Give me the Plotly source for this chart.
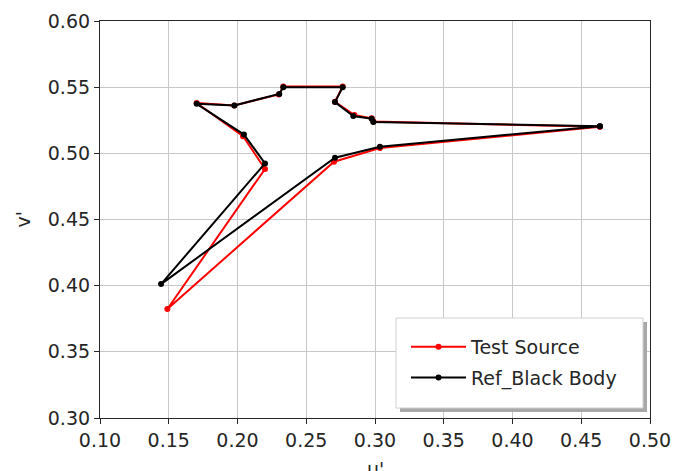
import plotly.graph_objects as go

# Test source chromaticity (u', v')
test_u = [0.4636, 0.3036, 0.2702, 0.1490, 0.2200, 0.2040, 0.1703, 0.1977, 0.2300,
          0.2333, 0.2765, 0.2709, 0.2850, 0.2976, 0.2988, 0.4636]
test_v = [0.5200, 0.5040, 0.4937, 0.3824, 0.4882, 0.5130, 0.5380, 0.5362, 0.5445,
          0.5505, 0.5505, 0.5390, 0.5290, 0.5265, 0.5240, 0.5200]

# Reference black body chromaticity (u', v')
ref_u = [0.4636, 0.3036, 0.2709, 0.1444, 0.2200, 0.2047, 0.1703, 0.1977, 0.2304,
         0.2333, 0.2765, 0.2709, 0.2842, 0.2976, 0.2988, 0.4636]
ref_v = [0.5205, 0.5050, 0.4967, 0.4012, 0.4924, 0.5142, 0.5374, 0.5362, 0.5449,
         0.5500, 0.5500, 0.5387, 0.5282, 0.5262, 0.5237, 0.5205]

x_ticks = [0.10, 0.15, 0.20, 0.25, 0.30, 0.35, 0.40, 0.45, 0.50]
y_ticks = [0.30, 0.35, 0.40, 0.45, 0.50, 0.55, 0.60]

FONT = "DejaVu Sans"
TXT = "#262626"
FS = 19

# plot area in figure pixels
L, R, T, B = 92, 642, 13, 410
W, H = 685, 471
PW, PH = R - L, B - T


def px(x):
    return (x - L) / PW


def py(y):
    return (B - y) / PH


fig = go.Figure()
fig.add_trace(go.Scatter(x=test_u, y=test_v, mode="lines+markers", name="Test Source",
                         legendgroup="a",
                         line=dict(color="red", width=2), marker=dict(color="red", size=6)))
fig.add_trace(go.Scatter(x=ref_u, y=ref_v, mode="lines+markers", name="Ref_Black Body",
                         legendgroup="b",
                         line=dict(color="black", width=2), marker=dict(color="black", size=6)))

axis_common = dict(showgrid=True, gridcolor="#c8c8c8", gridwidth=1,
                   showline=True, linecolor="#262626", linewidth=1.2, mirror=True,
                   ticks="outside", ticklen=5, tickcolor="#262626", tickwidth=1,
                   tickfont=dict(family=FONT, size=FS, color=TXT), zeroline=False,
                   automargin=False)

fig.update_xaxes(range=[0.10, 0.50], tickvals=x_ticks, tickformat=".2f", **axis_common)
fig.update_yaxes(range=[0.30, 0.60], tickvals=y_ticks, tickformat=".2f", **axis_common)

# Legend frame with shadow
fig.add_shape(type="rect", xref="paper", yref="paper",
              x0=px(392), x1=px(639), y0=py(404), y1=py(314),
              fillcolor="#a8a8a8", line=dict(width=0), layer="above")
fig.add_shape(type="rect", xref="paper", yref="paper",
              x0=px(388), x1=px(635), y0=py(400), y1=py(310),
              fillcolor="white", line=dict(color="#d0d0d0", width=1), layer="above")

fig.add_annotation(text="u'", xref="paper", yref="paper", x=0.5, y=py(448),
                   xanchor="center", yanchor="top", showarrow=False,
                   font=dict(family=FONT, size=FS, color=TXT))
fig.add_annotation(text="v'", xref="paper", yref="paper", x=px(14), y=0.5,
                   xanchor="center", yanchor="middle", showarrow=False, textangle=-90,
                   font=dict(family=FONT, size=FS, color=TXT))

fig.update_layout(
    width=W, height=H,
    margin=dict(l=L, r=W - R, t=T, b=H - B),
    paper_bgcolor="white", plot_bgcolor="white",
    showlegend=True,
    legend=dict(x=px(398), y=py(320), xanchor="left", yanchor="top",
                bgcolor="rgba(0,0,0,0)", borderwidth=0,
                font=dict(family=FONT, size=FS, color=TXT), itemwidth=55,
                tracegroupgap=3),
)

fig.write_html("out.html")
